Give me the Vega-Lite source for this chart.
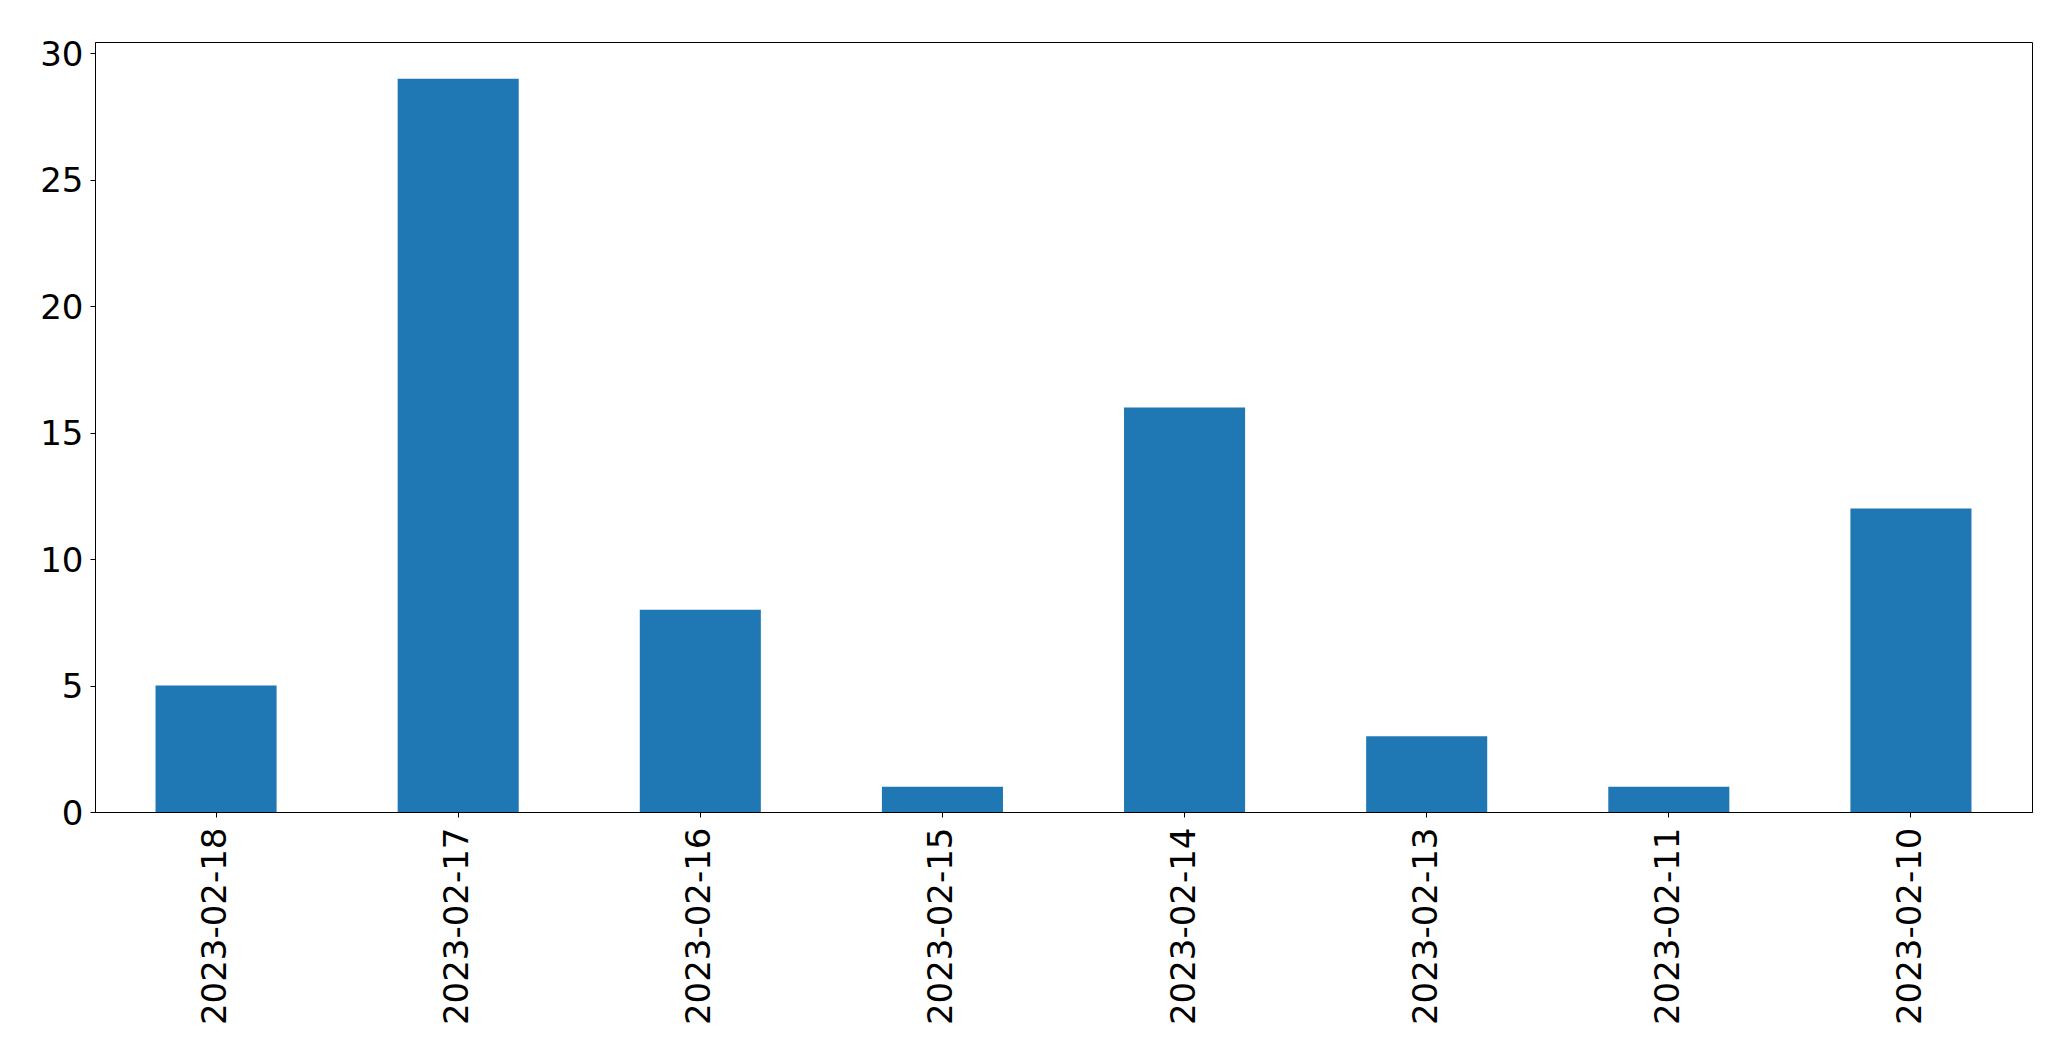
{
  "$schema": "https://vega.github.io/schema/vega-lite/v6.json",
  "autosize": {"type": "none"},
  "padding": {"left": 95, "top": 42, "right": 39, "bottom": 252},
  "width": 1937,
  "height": 770,
  "background": "white",
  "data": {"values": [
    {"date": "2023-02-18", "count": 5},
    {"date": "2023-02-17", "count": 29},
    {"date": "2023-02-16", "count": 8},
    {"date": "2023-02-15", "count": 1},
    {"date": "2023-02-14", "count": 16},
    {"date": "2023-02-13", "count": 3},
    {"date": "2023-02-11", "count": 1},
    {"date": "2023-02-10", "count": 12}
  ]},
  "mark": {"type": "bar", "color": "#1f77b4"},
  "encoding": {
    "x": {
      "field": "date", "type": "nominal", "sort": null,
      "scale": {"paddingInner": 0.5, "paddingOuter": 0.25},
      "axis": {"title": null, "labelAngle": -90, "labelLimit": 0, "labelFont": "DejaVu Sans", "labelFontSize": 34, "labelColor": "black", "tickColor": "black", "tickSize": 5, "labelPadding": 10, "domainColor": "black", "grid": false}
    },
    "y": {
      "field": "count", "type": "quantitative",
      "scale": {"domain": [0, 30.45], "nice": false, "zero": true},
      "axis": {"title": null, "values": [0, 5, 10, 15, 20, 25, 30], "labelFont": "DejaVu Sans", "labelFontSize": 34, "labelColor": "black", "labelOffset": 2, "tickColor": "black", "tickSize": 5, "labelPadding": 7, "domainColor": "black", "grid": false}
    }
  },
  "config": {
    "view": {"stroke": "black", "strokeWidth": 1},
    "axis": {"domainWidth": 1, "tickWidth": 1}
  }
}
